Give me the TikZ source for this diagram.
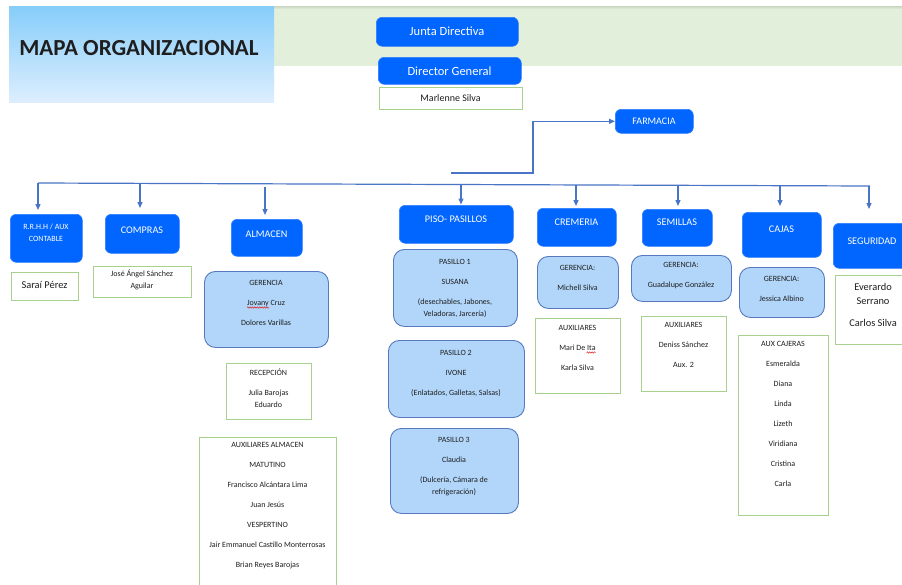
\documentclass[tikz,border=0pt]{standalone}
\usepackage{fontspec}
\setmainfont{Carlito}
\usetikzlibrary{arrows.meta,decorations.pathmorphing}

\definecolor{hdrblue}{HTML}{0066FF}
\definecolor{hdredge}{HTML}{2C7DFF}
\definecolor{paleblue}{HTML}{B1D6FA}
\definecolor{paleedge}{HTML}{5679C0}
\definecolor{leafedge}{HTML}{A9D18E}
\definecolor{bandgreen}{HTML}{E2EFDA}
\definecolor{bandshade}{HTML}{C9D5C1}
\definecolor{linkblue}{HTML}{4A74C6}
\definecolor{inktext}{HTML}{1E1E1E}
\definecolor{titletop}{HTML}{86CDFA}
\definecolor{titlebot}{HTML}{DDEEFE}
\definecolor{spellred}{HTML}{E02020}

\tikzset{
  hdr/.style={rectangle, rounded corners=6pt, fill=hdrblue, draw=hdredge,
    line width=0.6pt, inner sep=0pt, anchor=north west},
  unit/.style={rectangle, rounded corners=11pt, fill=paleblue, draw=paleedge,
    line width=0.9pt, inner sep=0pt, anchor=north west},
  leaf/.style={rectangle, draw=leafedge, fill=white, line width=1pt,
    inner sep=0pt, anchor=north west},
  hdrtxt/.style={text=white, font=\fontsize{10.2}{12}\selectfont,
    inner sep=0pt, align=center},
  toptxt/.style={text=white, font=\fontsize{12.5}{14}\selectfont,
    inner sep=0pt},
  smalltxt/.style={text=inktext, font=\fontsize{8}{20}\selectfont,
    inner sep=0pt, align=center},
  bigtxt/.style={text=inktext, font=\fontsize{10.4}{22}\selectfont,
    inner sep=0pt, align=center},
  link/.style={draw=linkblue, line width=1.2pt},
  drop/.style={link, -{Triangle[length=6pt,width=5pt]}},
  squiggle/.style={draw=spellred, line width=0.5pt, decorate,
    decoration={snake, amplitude=0.7pt, segment length=2.4pt}},
}

\begin{document}
\begin{tikzpicture}[x=1pt, y=-1pt]
\useasboundingbox (0,0) rectangle (902,584);
\clip (0,0) rectangle (902,584);
\fill[white] (0,0) rectangle (902,584);

% heading band and title panel
\fill[bandgreen] (274,6) rectangle (902,66);
\shade[top color=bandshade, bottom color=bandgreen] (274,6) rectangle (902,9);
\shade[top color=titletop, bottom color=titlebot] (9,6) rectangle (274,102);
\node[text=inktext, font=\fontsize{23}{26}\selectfont\bfseries, inner sep=0pt]
  (title) at (139,48) {MAPA ORGANIZACIONAL};

% top of the hierarchy
\node[hdr, minimum width=142pt, minimum height=29pt] (junta) at (376,17) {};
\node[toptxt] (junta-t) at (447,31) {Junta Directiva};
\node[hdr, minimum width=143pt, minimum height=27pt] (director) at (378,57) {};
\node[toptxt] (director-t) at (449.5,71) {Director General};
\node[leaf, minimum width=143pt, minimum height=22pt] (marlenne) at (379,87) {};
\node[text=inktext, font=\fontsize{10}{12}\selectfont, inner sep=0pt]
  (marlenne-t) at (450.5,98) {Marlenne Silva};
\node[hdr, minimum width=78pt, minimum height=24pt] (farmacia) at (615,109) {};
\node[hdrtxt, font=\fontsize{10}{12}\selectfont] (farmacia-t) at (654,121) {FARMACIA};

% departments
\node[hdr, minimum width=72pt, minimum height=48pt] (rrhh) at (10,214) {};
\node[hdrtxt, font=\fontsize{8}{12}\selectfont] (rrhh-t) at (46,233) {R.R.H.H / AUX\\CONTABLE};
\node[hdr, minimum width=74pt, minimum height=39pt] (compras) at (105,214) {};
\node[hdrtxt] (compras-t) at (142,230) {COMPRAS};
\node[hdr, minimum width=71pt, minimum height=37pt] (almacen) at (231,219) {};
\node[hdrtxt] (almacen-t) at (266.5,234) {ALMACEN};
\node[hdr, minimum width=114pt, minimum height=38pt] (piso) at (399,205) {};
\node[hdrtxt] (piso-t) at (456,219) {PISO- PASILLOS};
\node[hdr, minimum width=79pt, minimum height=38pt] (cremeria) at (537,208) {};
\node[hdrtxt] (cremeria-t) at (576.5,222) {CREMERIA};
\node[hdr, minimum width=70pt, minimum height=37pt] (semillas) at (642,209) {};
\node[hdrtxt] (semillas-t) at (677,222) {SEMILLAS};
\node[hdr, minimum width=79pt, minimum height=45pt] (cajas) at (742,212) {};
\node[hdrtxt] (cajas-t) at (781.5,229) {CAJAS};
\node[hdr, minimum width=79pt, minimum height=45pt] (seguridad) at (833,223) {};
\node[hdrtxt] (seguridad-t) at (872,241) {SEGURIDAD};

% R.R.H.H and compras staff
\node[leaf, minimum width=67pt, minimum height=28pt] (sarai) at (11,272) {};
\node[bigtxt] (sarai-t) at (44.5,285) {Saraí Pérez};
\node[leaf, minimum width=98pt, minimum height=31pt] (jose) at (93,266) {};
\node[smalltxt, font=\fontsize{8}{12}\selectfont] (jose-t) at (142,280) {José Ángel Sánchez\\Aguilar};

% almacen
\node[unit, minimum width=124pt, minimum height=76pt] (alm-ger) at (204,271) {};
\node[smalltxt] (alm-ger-t) at (266,303) {GERENCIA\\Jovany Cruz\\Dolores Varillas};
\node[leaf, minimum width=85pt, minimum height=56pt] (alm-rec) at (226,363) {};
\node[smalltxt] (alm-rec-t) at (268.5,388) {RECEPCIÓN\\Julia Barojas\\[-8pt]Eduardo};
\node[leaf, minimum width=137pt, minimum height=183pt] (alm-aux) at (199,437) {};
\node[smalltxt] (alm-aux-t) at (267.5,506) {AUXILIARES ALMACEN\\MATUTINO\\Francisco Alcántara Lima\\Juan Jesús\\VESPERTINO\\Jair Emmanuel Castillo Monterrosas\\Brian Reyes Barojas};

% pasillos
\node[unit, minimum width=124pt, minimum height=77pt] (pas1) at (393,249) {};
\node[smalltxt] (pas1-t) at (455,288) {PASILLO 1\\SUSANA\\(desechables, Jabones,\\[-8pt]Veladoras, Jarcería)};
\node[unit, minimum width=136pt, minimum height=77pt] (pas2) at (388,340) {};
\node[smalltxt] (pas2-t) at (456,373) {PASILLO 2\\IVONE\\(Enlatados, Galletas, Salsas)};
\node[unit, minimum width=128pt, minimum height=85pt] (pas3) at (390,428) {};
\node[smalltxt] (pas3-t) at (454,467) {PASILLO 3\\Claudia\\(Dulcería, Cámara de\\[-8pt]refrigeración)};

% cremeria
\node[unit, minimum width=81pt, minimum height=52pt] (crem-ger) at (537,256) {};
\node[smalltxt] (crem-ger-t) at (577.5,278) {GERENCIA:\\Michell Silva};
\node[leaf, minimum width=85pt, minimum height=75pt] (crem-aux) at (535,318) {};
\node[smalltxt] (crem-aux-t) at (577.5,348) {AUXILIARES\\Mari De Ita\\Karla Silva};

% semillas
\node[unit, minimum width=100pt, minimum height=46pt] (sem-ger) at (631,255) {};
\node[smalltxt] (sem-ger-t) at (681,276) {GERENCIA:\\Guadalupe González};
\node[leaf, minimum width=85pt, minimum height=75pt] (sem-aux) at (641,316) {};
\node[smalltxt] (sem-aux-t) at (683.5,345) {AUXILIARES\\Deniss Sánchez\\Aux. 2};

% cajas
\node[unit, minimum width=85pt, minimum height=50pt] (caj-ger) at (739,267) {};
\node[smalltxt] (caj-ger-t) at (781.5,288.5) {GERENCIA:\\Jessica Albino};
\node[leaf, minimum width=90pt, minimum height=180pt] (caj-aux) at (738,335) {};
\node[smalltxt] (caj-aux-t) at (783,414) {AUX CAJERAS\\Esmeralda\\Diana\\Linda\\Lizeth\\Viridiana\\Cristina\\Carla};

% seguridad
\node[leaf, minimum width=77pt, minimum height=69pt] (seg-aux) at (835,275) {};
\node[bigtxt] (seg-aux-t) at (873,305) {Everardo\\[-8pt]Serrano\\Carlos Silva};

% spelling marks under two names
\draw[squiggle] (247,307.5) -- (269,307.5);
\draw[squiggle] (586.5,352.5) -- (595.5,352.5);

% link up to farmacia
\coordinate (fa-tail) at (451,173);
\coordinate (fa-bend) at (533,173);
\draw[drop] (fa-tail) -- (fa-bend) -- (fa-bend |- farmacia.west) -- (farmacia.west);

% distribution bus and drops to each department
\coordinate (bus-l) at (38,183);
\coordinate (bus-r) at (870,186);
\draw[link] (bus-l) -- (bus-r);
\coordinate (tap-rrhh) at (38,183);
\coordinate (tap-compras) at (140,183.4);
\coordinate (tap-almacen) at (265,187);
\coordinate (tap-piso) at (461,184.5);
\coordinate (tap-cremeria) at (576,185);
\coordinate (tap-semillas) at (678,185.3);
\coordinate (tap-cajas) at (780,185.7);
\coordinate (tap-seguridad) at (869,186);
\draw[drop, shorten >=4pt] (tap-rrhh) -- (tap-rrhh |- rrhh.north);
\draw[drop, shorten >=6pt] (tap-compras) -- (tap-compras |- compras.north);
\draw[drop, shorten >=4pt] (tap-almacen) -- (tap-almacen |- almacen.north);
\draw[drop, shorten >=0.5pt] (tap-piso) -- (tap-piso |- piso.north);
\draw[drop, shorten >=2pt] (tap-cremeria) -- (tap-cremeria |- cremeria.north);
\draw[drop, shorten >=3pt] (tap-semillas) -- (tap-semillas |- semillas.north);
\draw[drop, shorten >=6pt] (tap-cajas) -- (tap-cajas |- cajas.north);
\draw[drop, shorten >=14pt] (tap-seguridad) -- (tap-seguridad |- seguridad.north);
\end{tikzpicture}
\end{document}
